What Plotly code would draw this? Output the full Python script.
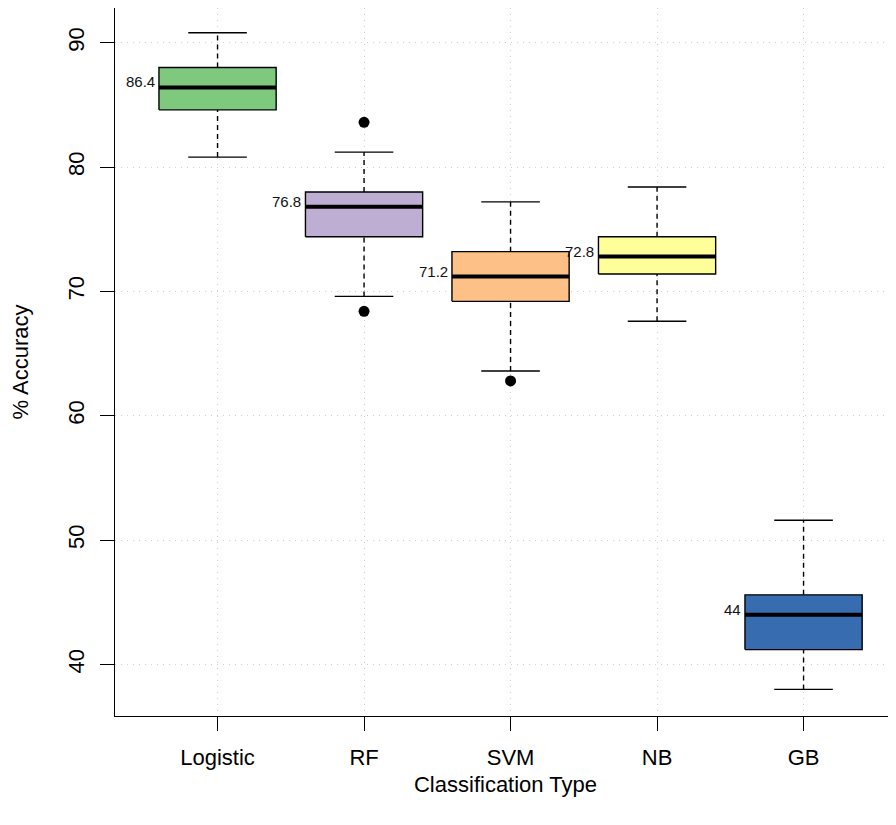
import plotly.graph_objects as go

categories = ["Logistic", "RF", "SVM", "NB", "GB"]
lower_whisker = [80.8, 69.6, 63.6, 67.6, 38.0]
q1 = [84.6, 74.4, 69.2, 71.4, 41.2]
median = [86.4, 76.8, 71.2, 72.8, 44.0]
q3 = [88.0, 78.0, 73.2, 74.4, 45.6]
upper_whisker = [90.8, 81.2, 77.2, 78.4, 51.6]
outlier_cat = ["RF", "RF", "SVM"]
outlier_val = [83.6, 68.4, 62.8]
colors = ["#7FC97F", "#BEAED4", "#FDC086", "#FFFF99", "#386CB0"]
y_ticks = [40, 50, 60, 70, 80, 90]

FONT = "Liberation Sans, Arial, Helvetica, sans-serif"
positions = list(range(1, len(categories) + 1))
hw = 0.4   # half box width
cw = 0.2   # half cap width

fig = go.Figure()

for i, p in enumerate(positions):
    # dashed whiskers
    for a, b in ((lower_whisker[i], q1[i]), (q3[i], upper_whisker[i])):
        fig.add_trace(go.Scatter(x=[p, p], y=[a, b], mode="lines",
                                 line=dict(color="black", width=1.4, dash="5px,4px"),
                                 showlegend=False, hoverinfo="skip"))
    # caps
    for v in (lower_whisker[i], upper_whisker[i]):
        fig.add_trace(go.Scatter(x=[p - cw, p + cw], y=[v, v], mode="lines",
                                 line=dict(color="black", width=1.4),
                                 showlegend=False, hoverinfo="skip"))
    # box
    fig.add_trace(go.Scatter(x=[p - hw, p + hw, p + hw, p - hw, p - hw],
                             y=[q1[i], q1[i], q3[i], q3[i], q1[i]],
                             mode="lines", fill="toself", fillcolor=colors[i],
                             line=dict(color="black", width=1.4),
                             showlegend=False, hoverinfo="skip"))
    # median
    fig.add_trace(go.Scatter(x=[p - hw, p + hw], y=[median[i], median[i]], mode="lines",
                             line=dict(color="black", width=4),
                             showlegend=False, hoverinfo="skip"))
    fig.add_annotation(x=p - hw, y=median[i], text=f"{median[i]:g}", showarrow=False,
                       xanchor="right", yanchor="bottom", xshift=-2, yshift=-5,
                       font=dict(family=FONT, size=15, color="#111111"))

# outliers
fig.add_trace(go.Scatter(x=[positions[categories.index(c)] for c in outlier_cat], y=outlier_val,
                         mode="markers", marker=dict(color="black", size=11),
                         showlegend=False, hoverinfo="skip"))

fig.update_layout(
    width=888, height=809,
    margin=dict(l=107, r=0, t=0, b=101, autoexpand=False),
    paper_bgcolor="white", plot_bgcolor="white",
    font=dict(family=FONT, size=22, color="black"),
    showlegend=False,
)
fig.update_xaxes(range=[0.3, 5.631], tickmode="array", tickvals=positions, ticktext=categories,
                 showline=True, linecolor="black", linewidth=1.4, mirror=True,
                 ticks="outside", ticklen=14, tickwidth=1.4, tickcolor="black",
                 showgrid=True, gridcolor="#CFCFCF", griddash="1px,5px", gridwidth=1,
                 zeroline=False, tickfont=dict(size=22), automargin=False,
                 ticklabelstandoff=7,
                 title=dict(text="Classification Type", font=dict(size=22), standoff=8))
fig.update_yaxes(range=[35.86, 92.79], tickmode="array", tickvals=y_ticks,
                 showline=True, linecolor="black", linewidth=1.4, mirror=False,
                 ticks="outside", ticklen=14, tickwidth=1.4, tickcolor="black",
                 showgrid=True, gridcolor="#CFCFCF", griddash="1px,5px", gridwidth=1,
                 zeroline=False, tickangle=-90, tickfont=dict(size=22), automargin=False,
                 ticklabelstandoff=7,
                 title=dict(text="% Accuracy", font=dict(size=22), standoff=31))

fig.write_html("out.html")
